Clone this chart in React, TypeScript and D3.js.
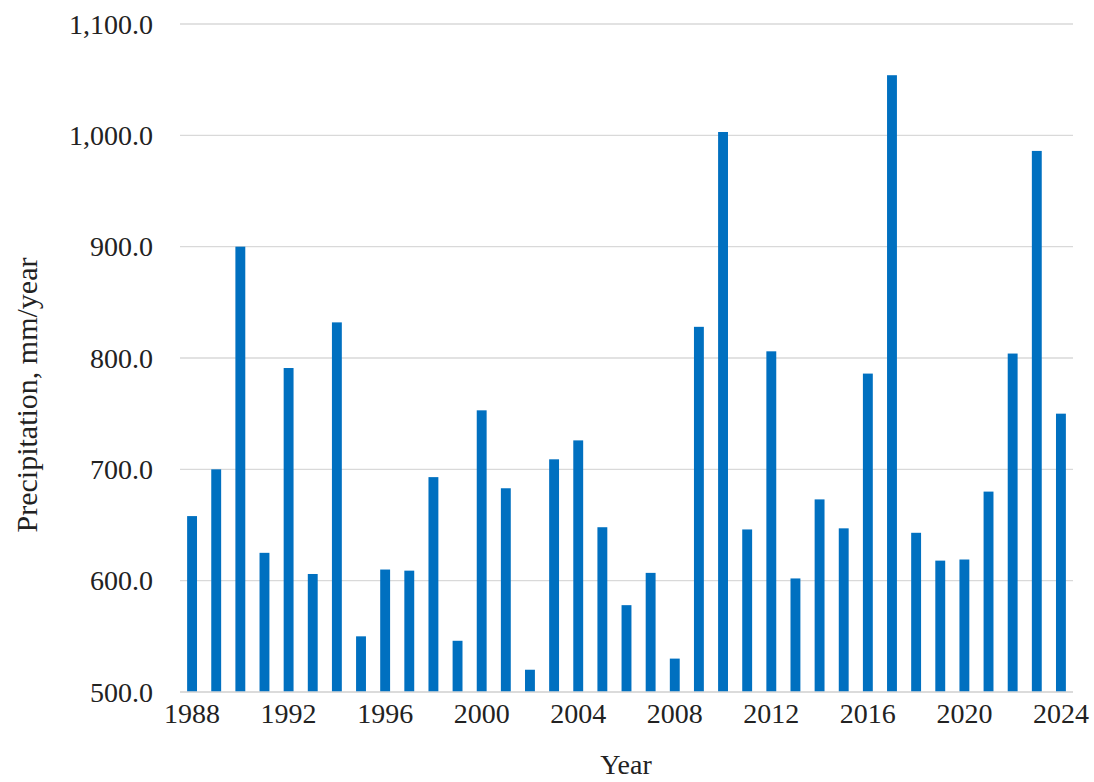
import React from "react";
import * as d3 from "d3";

const years: number[] = [
  1988, 1989, 1990, 1991, 1992, 1993, 1994, 1995, 1996, 1997, 1998, 1999, 2000,
  2001, 2002, 2003, 2004, 2005, 2006, 2007, 2008, 2009, 2010, 2011, 2012, 2013,
  2014, 2015, 2016, 2017, 2018, 2019, 2020, 2021, 2022, 2023, 2024,
];
const precipitation: number[] = [
  658, 700, 900, 625, 791, 606, 832, 550, 610, 609, 693, 546, 753,
  683, 520, 709, 726, 648, 578, 607, 530, 828, 1003, 646, 806, 602,
  673, 647, 786, 1054, 643, 618, 619, 680, 804, 986, 750,
];
const yTicks: number[] = [500, 600, 700, 800, 900, 1000, 1100];
const xTickYears: number[] = [1988, 1992, 1996, 2000, 2004, 2008, 2012, 2016, 2020, 2024];
const yTitle = "Precipitation, mm/year";
const xTitle = "Year";

const W = 1094;
const H = 782;
const M = { left: 180, right: 1073, top: 24, bottom: 692 };
const FONT = "'Liberation Serif', 'Times New Roman', serif";

export default function App() {
  const x = d3
    .scaleBand<number>()
    .domain(years)
    .range([M.left, M.right])
    .paddingInner(0.59)
    .paddingOuter(0.295);
  const y = d3.scaleLinear().domain([500, 1100]).range([M.bottom, M.top]);
  const fmt = d3.format(",.1f");

  return (
    <svg
      width={W}
      height={H}
      style={{ position: "absolute", left: 0, top: 0, background: "#fff" }}
      fontFamily={FONT}
    >
      {yTicks.map((t) => (
        <g key={t}>
          <line
            x1={M.left}
            x2={M.right}
            y1={y(t)}
            y2={y(t)}
            stroke="#d9d9d9"
            strokeWidth={1.3}
          />
          <text
            x={153}
            y={y(t)}
            dy="0.35em"
            textAnchor="end"
            fontSize={28}
            fill="#222"
          >
            {fmt(t)}
          </text>
        </g>
      ))}
      {years.map((yr, i) => (
        <rect
          key={yr}
          x={x(yr)}
          y={y(precipitation[i])}
          width={x.bandwidth()}
          height={y(500) - y(precipitation[i])}
          fill="#0070C0"
        />
      ))}
      <line x1={M.left} x2={M.right} y1={y(500)} y2={y(500)} stroke="#d9d9d9" strokeWidth={1.5} />
      {xTickYears.map((yr) => (
        <text
          key={yr}
          x={(x(yr) as number) + x.bandwidth() / 2}
          y={723}
          textAnchor="middle"
          fontSize={28}
          fill="#222"
        >
          {yr}
        </text>
      ))}
      <text x={626} y={774} textAnchor="middle" fontSize={28} fill="#222">
        {xTitle}
      </text>
      <text
        transform={`translate(37, 395) rotate(-90)`}
        textAnchor="middle"
        fontSize={30}
        fill="#222"
      >
        {yTitle}
      </text>
    </svg>
  );
}
